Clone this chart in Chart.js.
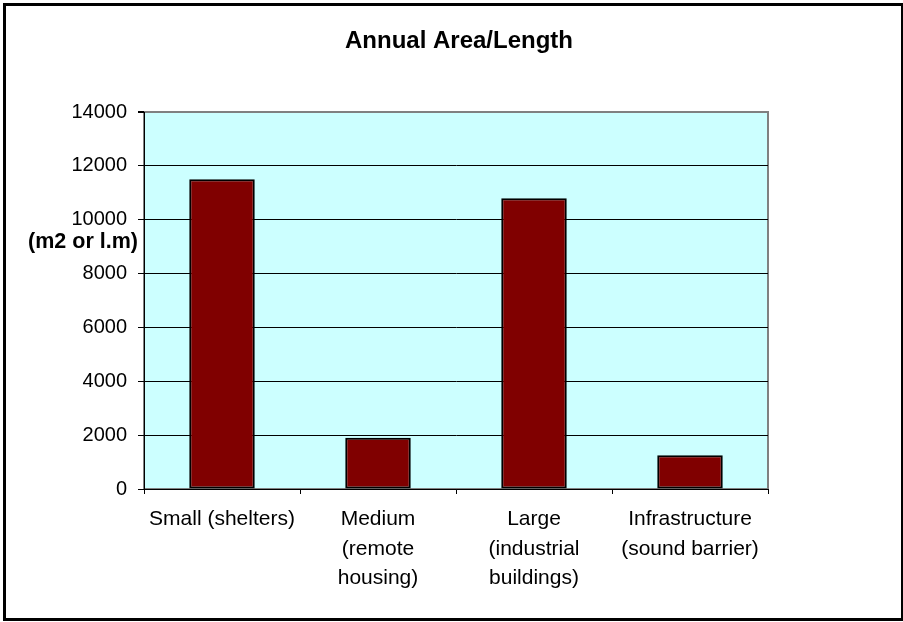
<!DOCTYPE html>
<html>
<head>
<meta charset="utf-8">
<script src="https://cdn.jsdelivr.net/npm/chart.js@4"></script>
<style>
  html, body { margin: 0; padding: 0; background: #fff; }
  #wrap { width: 903px; height: 622px; }
</style>
</head>
<body>
<div id="wrap"><canvas id="myChart"></canvas></div>
<script>
let categories = [
  'Small (shelters)',
  ['Medium', '(remote', 'housing)'],
  ['Large', '(industrial', 'buildings)'],
  ['Infrastructure', '(sound barrier)']
];
let areaValues = [11500, 1900, 10800, 1250];
let yTicks = [0, 2000, 4000, 6000, 8000, 10000, 12000, 14000];
let chartTitle = 'Annual Area/Length';
let yTitle = '(m2 or l.m)';

const font = 'Arial, "Liberation Sans", sans-serif';

// white page, black frame, cyan plot area with grey border, title texts
const frame = {
  id: 'frame',
  beforeDraw(chart) {
    const c = chart.ctx, a = chart.chartArea;
    c.save();
    c.fillStyle = '#fff';
    c.fillRect(0, 0, chart.width, chart.height);
    c.strokeStyle = '#000';
    c.lineWidth = 3;
    c.strokeRect(4.5, 4.5, chart.width - 5, chart.height - 7);
    c.fillStyle = '#CCFFFF';
    c.fillRect(a.left, a.top, a.right - a.left, a.bottom - a.top);
    c.strokeStyle = '#808080';
    c.lineWidth = 2;
    c.strokeRect(a.left, a.top, a.right - a.left, a.bottom - a.top);
    c.restore();
  },
  afterDraw(chart) {
    const c = chart.ctx, a = chart.chartArea;
    c.save();
    c.fillStyle = '#000';
    c.textBaseline = 'middle';
    c.font = 'bold 24px ' + font;
    c.textAlign = 'center';
    c.fillText(chartTitle, 459, 41);
    c.font = 'bold 21.5px ' + font;
    c.textAlign = 'right';
    c.fillText(yTitle, a.left - 6, a.top + 130);
    c.restore();
  }
};

const ctx = document.getElementById('myChart');

new Chart(ctx, {
  type: 'bar',
  data: {
    labels: categories,
    datasets: [{
      label: 'Annual Area/Length',
      data: areaValues,
      backgroundColor: '#800000',
      borderColor: '#000',
      borderWidth: 2,
      borderSkipped: false,
      barPercentage: 0.42,
      categoryPercentage: 1
    }]
  },
  options: {
    responsive: true,
    maintainAspectRatio: false,
    animation: false,
    layout: { padding: { left: 0, right: 135, top: 112, bottom: 0 } },
    plugins: {
      legend: { display: false },
      tooltip: { enabled: false },
      title: { display: false }
    },
    scales: {
      x: {
        offset: true,
        grid: {
          offset: true,
          drawOnChartArea: false,
          drawTicks: true,
          tickLength: 5,
          color: '#000'
        },
        border: { color: '#000', width: 1 },
        ticks: {
          color: '#000',
          font: { family: font, size: 21, lineHeight: 1.4 },
          padding: 11,
          maxRotation: 0,
          autoSkip: false
        },
        afterFit(scale) { scale.height = 133; }
      },
      y: {
        min: 0,
        max: 14000,
        afterBuildTicks(scale) { scale.ticks = yTicks.map(v => ({ value: v })); },
        grid: {
          color: c => (c.tick && c.tick.value === 14000) ? '#808080' : '#000',
          lineWidth: c => (c.tick && c.tick.value === 14000) ? 2 : 1,
          tickLength: 6,
          tickColor: '#000'
        },
        border: { color: '#000', width: 1 },
        ticks: {
          color: '#000',
          font: { family: font, size: 20 },
          padding: 11,
          callback: v => String(v)
        },
        afterFit(scale) { scale.width = 144; }
      }
    }
  },
  plugins: [frame]
});
</script>
</body>
</html>
